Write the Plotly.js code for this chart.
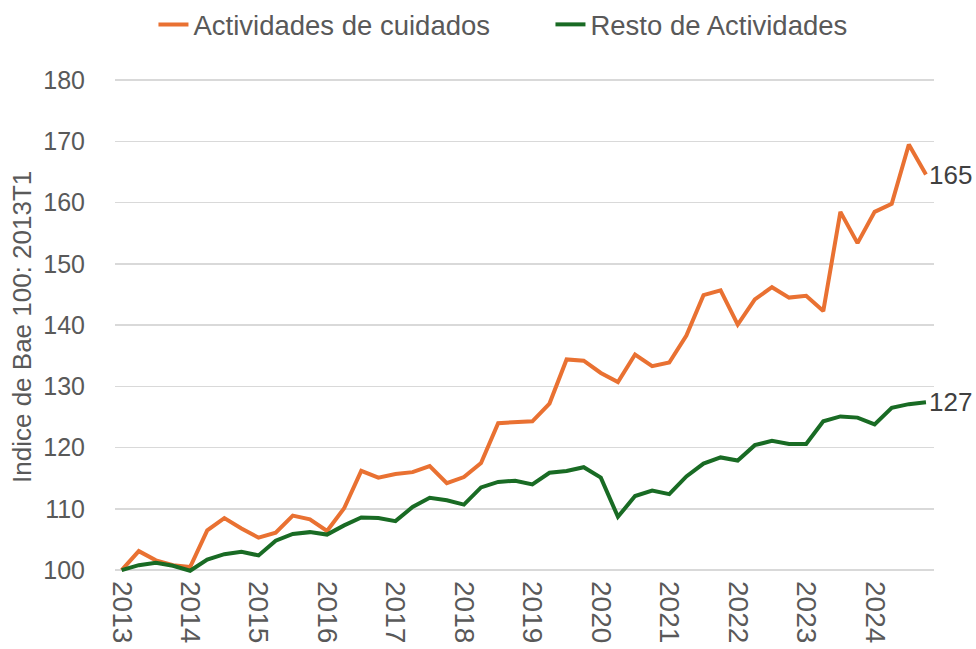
<!DOCTYPE html>
<html>
<head>
<meta charset="utf-8">
<script src="https://cdn.plot.ly/plotly-3.0.1.min.js"></script>
<style>html,body{margin:0;padding:0;background:#fff;}#chart{width:976px;height:649px;}</style>
</head>
<body>
<div id="chart"></div>
<script>
// Quarterly categories 2013T1 .. 2024T4
const quarters = [
  "2013T1","2013T2","2013T3","2013T4","2014T1","2014T2","2014T3","2014T4",
  "2015T1","2015T2","2015T3","2015T4","2016T1","2016T2","2016T3","2016T4",
  "2017T1","2017T2","2017T3","2017T4","2018T1","2018T2","2018T3","2018T4",
  "2019T1","2019T2","2019T3","2019T4","2020T1","2020T2","2020T3","2020T4",
  "2021T1","2021T2","2021T3","2021T4","2022T1","2022T2","2022T3","2022T4",
  "2023T1","2023T2","2023T3","2023T4","2024T1","2024T2","2024T3","2024T4"
];
const yearTickVals = ["2013T1","2014T1","2015T1","2016T1","2017T1","2018T1","2019T1","2020T1","2021T1","2022T1","2023T1","2024T1"];
const yearTickText = ["2013","2014","2015","2016","2017","2018","2019","2020","2021","2022","2023","2024"];
const yTickVals = [100,110,120,130,140,150,160,170,180];

const seriesNames = ["Actividades de cuidados", "Resto de Actividades"];
const yTitle = "Indice de Bae 100: 2013T1";

const cuidados = [
  100.0,103.1,101.6,100.8,100.5,106.5,108.5,106.8,
  105.3,106.1,108.9,108.3,106.4,110.1,116.2,115.1,
  115.7,116.0,117.0,114.2,115.2,117.5,124.0,124.1,
  124.3,127.2,134.4,134.2,132.2,130.7,135.2,133.3,
  133.9,138.3,144.9,145.7,140.1,144.2,146.2,144.5,
  144.8,142.3,158.5,153.4,158.5,159.8,169.5,164.6
];
const resto = [
  100.0,100.8,101.2,100.7,99.9,101.7,102.6,103.0,
  102.4,104.8,105.9,106.2,105.8,107.3,108.6,108.5,
  108.0,110.3,111.8,111.4,110.7,113.5,114.4,114.6,
  114.0,115.9,116.2,116.8,115.1,108.7,112.1,113.0,
  112.4,115.3,117.4,118.4,117.9,120.4,121.1,120.6,
  120.6,124.3,125.1,124.9,123.8,126.5,127.1,127.4
];

const colors = ["#E97132", "#196B24"];
const font = "Liberation Sans, Arial, sans-serif";
const grey = "#595959";

const traces = [cuidados, resto].map((vals, i) => ({
  type: "scatter",
  mode: "lines",
  name: seriesNames[i],
  x: quarters,
  y: vals,
  line: {color: colors[i], width: 4, shape: "linear"},
  hoverinfo: "x+y"
}));

const last = quarters.length - 1;
const annotations = [cuidados, resto].map(vals => ({
  x: quarters[last],
  y: vals[last],
  xref: "x", yref: "y",
  text: String(Math.round(vals[last])),
  showarrow: false,
  xanchor: "left",
  yanchor: "middle",
  xshift: 1,
  font: {family: font, size: 26, color: "#404040"}
}));
annotations.push({
  text: yTitle,
  xref: "paper", yref: "paper",
  x: -0.1136, y: 0.5,
  xanchor: "center", yanchor: "middle",
  textangle: -90,
  showarrow: false,
  font: {family: font, size: 26, color: grey}
});

const layout = {
  width: 976,
  height: 649,
  margin: {l: 115, r: 42, t: 79, b: 74},
  paper_bgcolor: "#ffffff",
  plot_bgcolor: "#ffffff",
  font: {family: font, color: grey},
  showlegend: true,
  legend: {
    orientation: "h",
    x: 0.564, xanchor: "center", xref: "container",
    y: 1, yanchor: "top", yref: "container",
    font: {family: font, size: 27.5, color: grey},
    itemwidth: 30,
    entrywidth: 352,
    bgcolor: "rgba(0,0,0,0)"
  },
  xaxis: {
    type: "category",
    range: [-0.39, 47.47],
    tickmode: "array",
    tickvals: yearTickVals,
    ticktext: yearTickText,
    tickangle: 90,
    ticks: "",
    ticklabelstandoff: 5,
    showgrid: false,
    zeroline: false,
    showline: false,
    tickfont: {family: font, size: 28, color: grey}
  },
  yaxis: {
    range: [99.2, 180.2],
    tickmode: "array",
    tickvals: yTickVals,
    ticks: "outside",
    ticklen: 24,
    tickcolor: "rgba(0,0,0,0)",
    showgrid: true,
    gridcolor: "#D9D9D9",
    gridwidth: 1.5,
    zeroline: false,
    showline: false,
    tickfont: {family: font, size: 25, color: grey}
  },
  annotations: annotations
};

Plotly.newPlot("chart", traces, layout, {displayModeBar: false, staticPlot: true});
</script>
</body>
</html>
